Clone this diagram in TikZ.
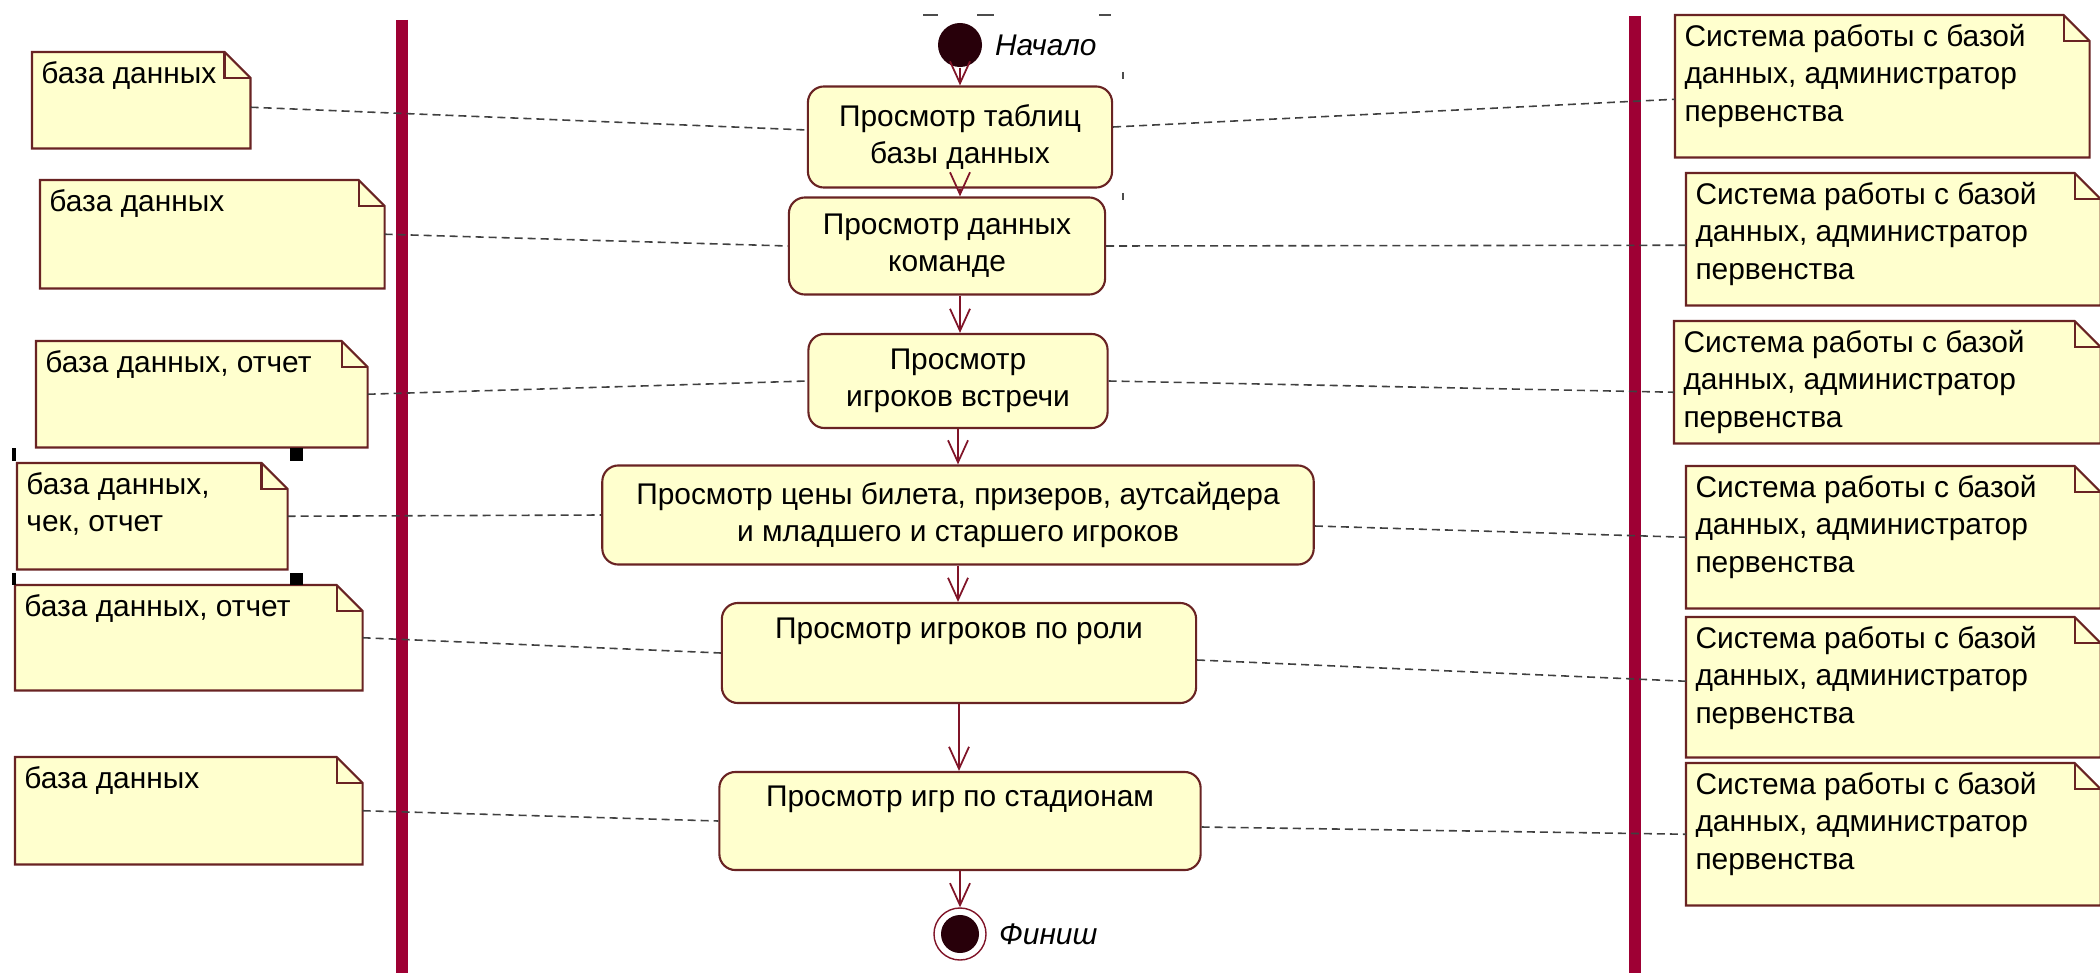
\documentclass[tikz,border=0pt]{standalone}
\usepackage{fontspec}
\setmainfont{Liberation Sans}
\usetikzlibrary{arrows.meta}

\definecolor{notefill}{RGB}{255,255,206}
\definecolor{laneline}{RGB}{158,0,52}
\definecolor{flowline}{RGB}{128,20,40}
\definecolor{boxline}{RGB}{105,35,35}
\definecolor{dotfill}{RGB}{40,0,10}

\begin{document}
\begin{tikzpicture}[x=0.01cm, y=-0.01cm, >={Straight Barb[length=2.2mm, width=2mm]},
    act/.style = {draw=boxline, fill=notefill, line width=0.6pt, rounded corners=1.6mm,
      align=center, inner sep=0pt, font=\fontsize{8.5}{10.6}\selectfont},
    note/.style = {fill=notefill, inner sep=0pt, anchor=north west},
    notetext/.style = {anchor=north west, align=left, inner sep=2.5pt,
      font=\fontsize{8.5}{10.6}\selectfont},
    noteline/.style = {draw=boxline, line width=0.6pt},
    link/.style = {dash pattern=on 0.8mm off 0.5mm, line width=0.45pt, draw=black!75},
    flow/.style = {->, draw=flowline, line width=0.5pt},
    lane/.style = {draw=laneline, line width=3.6pt}]
    \useasboundingbox (0,0) rectangle (2100,973);

    % Swimlane bars
    \draw[lane] (402,20) -- (402,973);
    \draw[lane] (1635,16) -- (1635,973);

    % Start and finish
    \node[circle, fill=dotfill, minimum size=0.44cm, inner sep=0pt,
      label={[font=\fontsize{8.5}{10}\selectfont\itshape]right:Начало}] (start) at (960,45) {};
    \node[circle, draw=flowline, line width=0.4pt, minimum size=0.52cm, inner sep=0pt,
      path picture={\fill[dotfill] (path picture bounding box.center) circle (0.19cm);},
      label={[font=\fontsize{8.5}{10}\selectfont\itshape]right:Финиш}] (finish) at (960,934) {};

    % Activities
    \node[act, minimum width=3.04cm, minimum height=1.01cm] (b1) at (960,137) {Просмотр таблиц\\базы данных};
    \node[act, minimum width=3.16cm, minimum height=0.97cm] (b2) at (947,246) {Просмотр данных\\команде};
    \node[act, minimum width=2.99cm, minimum height=0.94cm] (b3) at (958,381) {Просмотр\\игроков встречи};
    \node[act, minimum width=7.11cm, minimum height=0.99cm] (b4) at (958,515) {Просмотр цены билета, призеров, аутсайдера\\и младшего и старшего игроков};
    \node[act, minimum width=4.74cm, minimum height=1.00cm, text depth=0.5cm] (b5) at (959,653) {Просмотр игроков по роли};
    \node[act, minimum width=4.81cm, minimum height=0.98cm, text depth=0.5cm] (b6) at (960,821) {Просмотр игр по стадионам};

    % Notes on the left
    \node[note, minimum width=2.17cm, minimum height=0.95cm, label={[notetext]north west:база данных}] (n1) at (32,52) {};
    \node[note, minimum width=3.43cm, minimum height=1.07cm, label={[notetext]north west:база данных}] (n2) at (40,180) {};
    \node[note, minimum width=3.30cm, minimum height=1.05cm, label={[notetext]north west:база данных, отчет}] (n3) at (36,341) {};
    \node[note, minimum width=2.69cm, minimum height=1.05cm, label={[notetext]north west:база данных,\\чек, отчет}] (n4) at (17,463) {};
    \node[note, minimum width=3.46cm, minimum height=1.04cm, label={[notetext]north west:база данных, отчет}] (n5) at (15,585) {};
    \node[note, minimum width=3.46cm, minimum height=1.06cm, label={[notetext]north west:база данных}] (n6) at (15,757) {};

    % Notes on the right
    \node[note, minimum width=4.13cm, minimum height=1.41cm, label={[notetext]north west:Система работы с базой\\данных, администратор\\первенства}] (r1) at (1675,15) {};
    \node[note, minimum width=4.13cm, minimum height=1.31cm, label={[notetext]north west:Система работы с базой\\данных, администратор\\первенства}] (r2) at (1686,173) {};
    \node[note, minimum width=4.25cm, minimum height=1.21cm, label={[notetext]north west:Система работы с базой\\данных, администратор\\первенства}] (r3) at (1674,321) {};
    \node[note, minimum width=4.13cm, minimum height=1.41cm, label={[notetext]north west:Система работы с базой\\данных, администратор\\первенства}] (r4) at (1686,466) {};
    \node[note, minimum width=4.13cm, minimum height=1.39cm, label={[notetext]north west:Система работы с базой\\данных, администратор\\первенства}] (r5) at (1686,617) {};
    \node[note, minimum width=4.13cm, minimum height=1.41cm, label={[notetext]north west:Система работы с базой\\данных, администратор\\первенства}] (r6) at (1686,763) {};

    % Folded corners
    \foreach \n in {n1,n2,n3,n4,n5,n6,r1,r2,r3,r4,r5,r6} {
      \fill[white] ([xshift=-2.6mm]\n.north east) -- (\n.north east) -- ([yshift=-2.6mm]\n.north east) -- cycle;
      \draw[noteline] (\n.north west) -- ([xshift=-2.6mm]\n.north east) -- ([yshift=-2.6mm]\n.north east)
        -- (\n.south east) -- (\n.south west) -- cycle;
      \draw[noteline] ([xshift=-2.6mm]\n.north east) |- ([yshift=-2.6mm]\n.north east);
    }

    % Control flow
    \draw[flow] (start) -- (b1);
    \draw[flow] (b1.south) -- (b1.south |- b2.north);
    \draw[flow] (b1.south |- b2.south) -- (b1.south |- b3.north);
    \draw[flow] (b3.south) -- (b3.south |- b4.north);
    \draw[flow] (b4.south) -- (b4.south |- b5.north);
    \draw[flow] (b5.south) -- (b5.south |- b6.north);
    \draw[flow] (b6.south) -- (finish);

    % Links to notes
    \draw[link] ([yshift=-0.07cm]n1.east) -- ([yshift=0.07cm]b1.west);
    \draw[link] (n2.east) -- (b2.west);
    \draw[link] (n3.east) -- (b3.west);
    \draw[link] (n4.east) -- (b4.west);
    \draw[link] (n5.east) -- (b5.west);
    \draw[link] (n6.east) -- (b6.west);
    \draw[link] ([yshift=0.1cm]b1.east) -- ([yshift=-0.13cm]r1.west);
    \draw[link] (b2.east) -- ([yshift=-0.06cm]r2.west);
    \draw[link] (b3.east) -- ([yshift=-0.1cm]r3.west);
    \draw[link] ([yshift=-0.11cm]b4.east) -- (r4.west);
    \draw[link] ([yshift=-0.07cm]b5.east) -- ([yshift=0.06cm]r5.west);
    \draw[link] ([yshift=-0.06cm]b6.east) -- (r6.west);

    % Selection marks
    \fill (290,448) rectangle (303,461);
    \fill (290,573) rectangle (303,585);
    \fill (12,448) rectangle (16,461);
    \fill (12,573) rectangle (16,585);
    \draw[line width=0.8pt, black!70] (923,15) -- (938,15) (977,15) -- (994,15) (1099,15) -- (1111,15)
      (1123,72) -- (1123,79) (1123,193) -- (1123,200);
\end{tikzpicture}
\end{document}
